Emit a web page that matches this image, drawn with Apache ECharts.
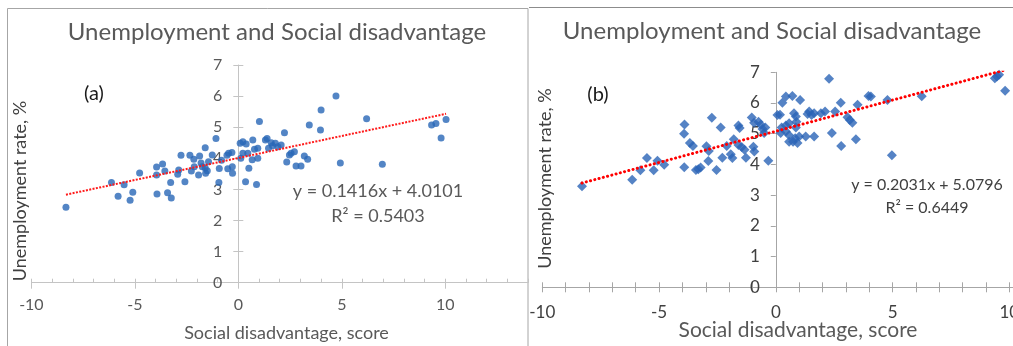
<!DOCTYPE html>
<html>
<head>
<meta charset="utf-8">
<script src="https://cdn.jsdelivr.net/npm/echarts@6/dist/echarts.min.js"></script>
<style>
  html, body { margin: 0; padding: 0; background: #ffffff; }
  #chart { width: 1013px; height: 346px; }
</style>
</head>
<body>
<div id="chart"></div>
<script>
// ---- Panel (a): social disadvantage score vs unemployment rate (circles) ----
const scoresA = [
  -8.33, -6.13, -5.81, -5.52, -5.23, -5.10, -4.77, -3.95, -3.95, -3.93,
  -3.66, -3.55, -3.42, -3.27, -3.24, -2.93, -2.88, -2.77, -2.58, -2.34,
  -2.27, -2.15, -2.13, -1.92, -1.87, -1.80, -1.74, -1.60, -1.58, -1.60,
  -1.50, -1.44, -1.26, -1.08, -0.92, -0.94, -0.81, -0.51, -0.47, -0.31,
  -0.29, -0.28, -0.55, 0.09, 0.22, 0.38, 0.22, 0.12, 0.46, 0.51,
  0.35, 0.70, 0.67, 0.78, 0.94, 0.94, 0.88, 1.02, 1.31, 1.39,
  1.46, 1.59, 1.65, 1.79, 1.91, 2.07, 2.23, 2.34, 2.47, 2.55,
  2.71, 2.79, 3.03, 3.19, 3.35, 3.43, 3.97, 4.00, 4.72, 4.93,
  6.20, 6.96, 9.34, 9.55, 9.80, 10.04
];
const ratesA = [
  2.43, 3.22, 2.78, 3.15, 2.65, 2.91, 3.53, 3.72, 3.46, 2.85,
  3.82, 3.59, 2.89, 3.22, 2.72, 3.49, 3.62, 4.10, 3.25, 4.10,
  3.59, 3.97, 3.73, 3.46, 4.07, 3.85, 3.73, 4.34, 3.52, 3.69,
  3.60, 3.89, 4.11, 4.64, 3.67, 3.22, 3.94, 3.66, 4.16, 4.19,
  3.73, 3.52, 4.10, 4.48, 4.53, 4.46, 4.16, 4.00, 4.16, 3.68,
  3.25, 4.59, 3.95, 4.29, 4.32, 4.00, 3.16, 5.18, 4.59, 4.64,
  4.32, 4.50, 4.40, 4.48, 4.37, 4.43, 4.82, 3.88, 4.11, 4.16,
  4.21, 3.75, 3.75, 4.07, 3.97, 5.07, 4.91, 5.55, 6.00, 3.85,
  5.27, 3.81, 5.07, 5.12, 4.65, 5.25
];
const fitA = { slope: 0.1416, intercept: 4.0101, r2: '0.5403' };

// ---- Panel (b): social disadvantage score vs unemployment rate (diamonds) ----
const scoresB = [
  -8.30, -6.15, -5.80, -5.52, -5.23, -5.07, -4.78, -3.91, -3.93, -3.92,
  -3.68, -3.55, -3.42, -3.32, -3.22, -2.97, -2.87, -2.74, -2.89, -2.54,
  -2.36, -2.29, -2.10, -1.93, -1.86, -1.80, -1.60, -1.55, -1.60, -1.46,
  -1.34, -1.28, -1.03, -0.93, -0.96, -0.92, -0.74, -0.64, -0.57, -0.50,
  -0.32, -0.45, 0.07, 0.18, 0.28, 0.43, 0.71, 1.04, 0.21, 0.25,
  0.43, 0.43, 0.57, 0.57, 0.74, 0.83, 0.93, 1.00, 0.78, 0.86,
  0.88, 0.57, 0.86, 1.28, 1.43, 1.36, 1.64, 1.53, 1.64, 1.93,
  2.11, 2.28, 2.40, 2.54, 2.78, 2.80, 3.07, 3.17, 3.28, 3.43,
  3.50, 3.97, 4.07, 4.78, 4.97, 6.25, 9.38, 9.56, 9.47, 9.82
];
const ratesB = [
  3.29, 3.50, 3.81, 4.21, 3.81, 4.12, 3.99, 5.30, 5.00, 3.91,
  4.70, 4.60, 3.82, 3.84, 3.90, 4.59, 4.44, 5.52, 4.11, 3.82,
  5.20, 4.22, 4.60, 4.33, 4.21, 4.82, 5.27, 5.19, 4.63, 4.57,
  4.48, 4.22, 5.53, 5.36, 4.58, 4.42, 5.39, 5.29, 5.15, 5.02,
  4.12, 5.20, 5.61, 5.62, 6.01, 6.21, 6.23, 6.10, 5.02, 5.20,
  5.07, 5.27, 4.74, 4.95, 4.74, 4.85, 4.70, 4.91, 5.67, 5.56,
  5.39, 5.34, 5.20, 4.91, 5.72, 5.64, 5.67, 5.61, 4.91, 5.67,
  5.72, 6.79, 5.02, 5.72, 6.01, 4.60, 5.54, 5.45, 5.36, 4.82,
  5.94, 6.23, 6.21, 6.10, 4.30, 6.22, 6.81, 6.92, 6.86, 6.40
];
const fitB = { slope: 0.2031, intercept: 5.0796, r2: '0.6449' };

// ---- Shared texts ----
const chartTitle = 'Unemployment and Social disadvantage';
const xAxisTitle = 'Social disadvantage, score';
const yAxisTitle = 'Unemployment rate, %';
const panelTags = ['(a)', '(b)'];

const FONT = 'Lato, "Open Sans", "DejaVu Sans", sans-serif';

function pairs(xs, ys) { return xs.map((x, i) => [x, ys[i]]); }
function trendPoints(xs, fit) {
  const lo = Math.min(...xs), hi = Math.max(...xs);
  return [[lo, fit.slope * lo + fit.intercept], [hi, fit.slope * hi + fit.intercept]];
}
function equation(fit) {
  return 'y = ' + fit.slope.toFixed(4) + 'x + ' + fit.intercept.toFixed(4);
}
const everyFifth = v => (Math.abs(v % 5) < 1e-9 ? String(v) : '');

// Plot boxes; the value axis ranges below map the x range -10..max onto them.
const boxA = { left: 31.4, top: 65, width: 496.6, height: 217.7, xMin: -10, xMax: 14 };
const boxB = { left: 542.3, top: 72.3, width: 478.7, height: 215, xMin: -10, xMax: 10.5 };
// Pixel offset that moves a left y-axis from the box edge to x = 0.
const zeroShift = b => -b.width * (0 - b.xMin) / (b.xMax - b.xMin);

const chart = echarts.init(document.getElementById('chart'), null, { renderer: 'canvas' });

const axisGreyA = '#c4c4c4';
const axisGreyB = '#a6a6a6';
const labelA = '#595959';
const labelB = '#404040';

const option = {
  animation: false,
  backgroundColor: '#ffffff',
  textStyle: { fontFamily: FONT },
  grid: [
    { left: boxA.left, top: boxA.top, width: boxA.width, height: boxA.height, outerBoundsMode: 'none', containLabel: false },
    { left: boxB.left, top: boxB.top, width: boxB.width, height: boxB.height, outerBoundsMode: 'none', containLabel: false }
  ],
  xAxis: [
    { // (a) labelled axis, major ticks below
      type: 'value', gridIndex: 0, min: boxA.xMin, max: boxA.xMax, interval: 5, position: 'bottom',
      axisLine: { onZero: false, lineStyle: { color: axisGreyA, width: 1 } },
      axisTick: { show: true, inside: false, length: 6, lineStyle: { color: axisGreyA } },
      axisLabel: { margin: 14, fontSize: 16, color: labelA, fontFamily: FONT, formatter: everyFifth, showMaxLabel: false },
      splitLine: { show: false }
    },
    { // (a) unit ticks pointing up
      type: 'value', gridIndex: 0, min: boxA.xMin, max: boxA.xMax, interval: 1, position: 'bottom',
      axisLine: { show: true, onZero: false, lineStyle: { opacity: 0 } },
      axisTick: { show: true, inside: true, length: 4, lineStyle: { color: axisGreyA } },
      axisLabel: { show: false },
      splitLine: { show: false }
    },
    { // (b) labelled axis, unit ticks below
      type: 'value', gridIndex: 1, min: boxB.xMin, max: boxB.xMax, interval: 1, position: 'bottom',
      axisLine: { onZero: false, lineStyle: { color: axisGreyB, width: 1 } },
      axisTick: { show: true, inside: false, length: 5, lineStyle: { color: axisGreyB } },
      axisLabel: { margin: 17, fontSize: 17, color: labelB, fontFamily: FONT, formatter: everyFifth, showMaxLabel: false },
      splitLine: { show: false }
    },
    { // (b) unit ticks above
      type: 'value', gridIndex: 1, min: boxB.xMin, max: boxB.xMax, interval: 1, position: 'bottom',
      axisLine: { show: true, onZero: false, lineStyle: { opacity: 0 } },
      axisTick: { show: true, inside: true, length: 5, lineStyle: { color: axisGreyB } },
      axisLabel: { show: false },
      splitLine: { show: false }
    }
  ],
  yAxis: [
    { // (a) labelled axis at x = 0
      type: 'value', gridIndex: 0, min: 0, max: 7, interval: 1, position: 'left', offset: zeroShift(boxA),
      axisLine: { show: true, onZero: false, lineStyle: { color: axisGreyA, width: 1 } },
      axisTick: { show: true, inside: false, length: 5, lineStyle: { color: axisGreyA } },
      axisLabel: { margin: 16, fontSize: 16, color: labelA, fontFamily: FONT },
      splitLine: { show: false }
    },
    { // (a) tick halves on the right of the axis
      type: 'value', gridIndex: 0, min: 0, max: 7, interval: 1, position: 'left', offset: zeroShift(boxA),
      axisLine: { show: true, onZero: false, lineStyle: { opacity: 0 } },
      axisTick: { show: true, inside: true, length: 5, lineStyle: { color: axisGreyA } },
      axisLabel: { show: false },
      splitLine: { show: false }
    },
    { // (b) labelled axis at x = 0
      type: 'value', gridIndex: 1, min: 0, max: 7, interval: 1, position: 'left', offset: zeroShift(boxB),
      axisLine: { show: true, onZero: false, lineStyle: { color: axisGreyB, width: 1 } },
      axisTick: { show: true, inside: false, length: 5, lineStyle: { color: axisGreyB } },
      axisLabel: { margin: 16, fontSize: 17, color: labelB, fontFamily: FONT },
      splitLine: { show: false }
    }
  ],
  series: [
    {
      type: 'scatter', xAxisIndex: 0, yAxisIndex: 0, z: 3,
      symbol: 'circle', symbolSize: 7,
      itemStyle: { color: '#2866b6' },
      data: pairs(scoresA, ratesA)
    },
    {
      type: 'line', xAxisIndex: 0, yAxisIndex: 0, z: 4, silent: true,
      showSymbol: false, symbol: 'none', clip: true,
      lineStyle: { color: '#ff1a1a', width: 2, type: [2, 1.4] },
      data: trendPoints(scoresA, fitA)
    },
    {
      type: 'scatter', xAxisIndex: 2, yAxisIndex: 2, z: 3,
      symbol: 'diamond', symbolSize: 10,
      itemStyle: { color: '#2a64b6' },
      data: pairs(scoresB, ratesB)
    },
    {
      type: 'line', xAxisIndex: 2, yAxisIndex: 2, z: 4, silent: true,
      showSymbol: false, symbol: 'none', clip: true,
      lineStyle: { color: '#ff0000', width: 3, type: [0.1, 4.3], cap: 'round' },
      data: trendPoints(scoresB, fitB)
    }
  ],
  graphic: [
    // panel frames
    { type: 'rect', silent: true, z: -1,
      shape: { x: 7.5, y: 8.5, width: 520.5, height: 400 },
      style: { fill: 'none', stroke: '#a6a6a6', lineWidth: 1 } },
    { type: 'line', silent: true, z: -1,
      shape: { x1: 529, y1: 7.5, x2: 1013, y2: 7.5 },
      style: { stroke: '#8c8c8c', lineWidth: 1 } },

    // titles
    { type: 'text', x: 277, y: 32, silent: true,
      style: { text: chartTitle, font: '24px ' + FONT, fill: '#595959', align: 'center', verticalAlign: 'middle' } },
    { type: 'text', x: 772, y: 31, silent: true,
      style: { text: chartTitle, font: '24px ' + FONT, fill: '#595959', align: 'center', verticalAlign: 'middle' } },

    // panel tags
    { type: 'text', x: 94, y: 94, silent: true,
      style: { text: panelTags[0], font: '20px ' + FONT, fill: '#1a1a1a', align: 'center', verticalAlign: 'middle' } },
    { type: 'text', x: 598, y: 95, silent: true,
      style: { text: panelTags[1], font: '20px ' + FONT, fill: '#1a1a1a', align: 'center', verticalAlign: 'middle' } },

    // regression equations
    { type: 'text', x: 378, y: 191, silent: true,
      style: { text: equation(fitA), font: '18px ' + FONT, fill: '#595959', align: 'center', verticalAlign: 'middle' } },
    { type: 'text', x: 378, y: 216, silent: true,
      style: { text: 'R\u00B2 = ' + fitA.r2, font: '18px ' + FONT, fill: '#595959', align: 'center', verticalAlign: 'middle' } },
    { type: 'text', x: 927, y: 184.5, silent: true,
      style: { text: equation(fitB), font: '16px ' + FONT, fill: '#404040', align: 'center', verticalAlign: 'middle' } },
    { type: 'text', x: 927, y: 208, silent: true,
      style: { text: 'R\u00B2 = ' + fitB.r2, font: '16px ' + FONT, fill: '#404040', align: 'center', verticalAlign: 'middle' } },

    // axis titles
    { type: 'text', x: 286.5, y: 333, silent: true,
      style: { text: xAxisTitle, font: '18px ' + FONT, fill: '#595959', align: 'center', verticalAlign: 'middle' } },
    { type: 'text', x: 798, y: 330, silent: true,
      style: { text: xAxisTitle, font: '21px ' + FONT, fill: '#595959', align: 'center', verticalAlign: 'middle' } },
    { type: 'text', x: 20, y: 191, rotation: Math.PI / 2, silent: true,
      style: { text: yAxisTitle, font: '18px ' + FONT, fill: '#404040', align: 'center', verticalAlign: 'middle' } },
    { type: 'text', x: 545, y: 178.5, rotation: Math.PI / 2, silent: true,
      style: { text: yAxisTitle, font: '18px ' + FONT, fill: '#404040', align: 'center', verticalAlign: 'middle' } }
  ]
};

chart.setOption(option);
</script>
</body>
</html>
